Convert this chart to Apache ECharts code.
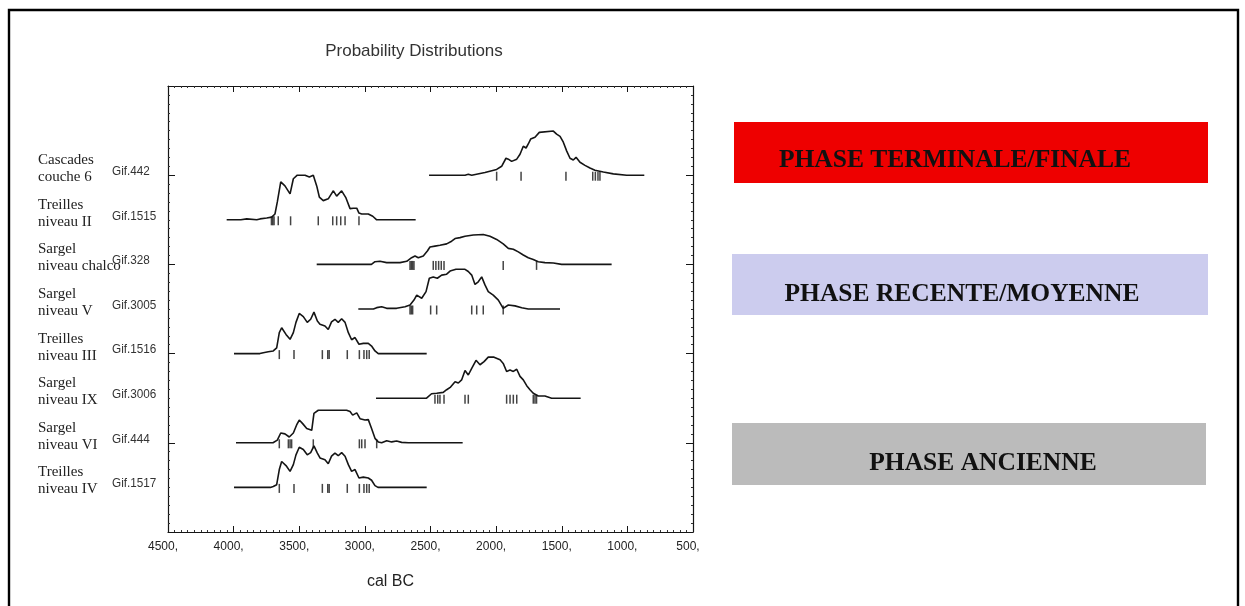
<!DOCTYPE html>
<html><head><meta charset="utf-8">
<script src="https://cdn.jsdelivr.net/npm/echarts@6/dist/echarts.min.js"></script>
<style>html,body{margin:0;padding:0;background:#fff}#c{width:1245px;height:606px}</style>
</head><body><div id="c"></div>
<script>
// ---- data ----
const siteNames = ['Cascades\ncouche 6','Treilles\nniveau II','Sargel\nniveau chalco','Sargel\nniveau V','Treilles\nniveau III','Sargel\nniveau IX','Sargel\nniveau VI','Treilles\nniveau IV'];
const labCodes = ['Gif.442','Gif.1515','Gif.328','Gif.3005','Gif.1516','Gif.3006','Gif.444','Gif.1517'];
const xTickValues = [4500,4000,3500,3000,2500,2000,1500,1000,500];
const phaseLabels = ['PHASE TERMINALE/FINALE','PHASE RECENTE/MOYENNE','PHASE ANCIENNE'];
const phaseColors = ['#ee0000','#ccccee','#bbbbbb'];

// [year cal BC, relative probability (100 = one row height)]
const curve442 = [[2511,0],[2237,0],[2212,2],[2186,0],[2085,6],[1996,13],[1958,20],[1925,38],[1907,36],[1882,31],[1843,36],[1818,47],[1793,65],[1772,61],[1755,70],[1737,81],[1704,85],[1671,96],[1564,99],[1539,92],[1513,87],[1488,74],[1462,54],[1437,38],[1412,34],[1391,40],[1361,29],[1323,22],[1285,16],[1247,11],[1183,7],[1107,3],[1005,0],[871,0]];
const curve1515 = [[4053,0],[3945,0],[3938,2],[3900,2],[3890,0],[3824,0],[3799,2],[3748,4],[3710,6],[3685,13],[3667,40],[3641,85],[3609,76],[3570,58],[3545,92],[3515,100],[3456,100],[3423,96],[3393,100],[3367,76],[3347,51],[3317,43],[3279,47],[3260,56],[3240,65],[3215,53],[3177,65],[3144,49],[3113,25],[3088,26],[3062,26],[3045,15],[3024,13],[2974,13],[2940,8],[2910,0],[2613,0]];
const curve328 = [[3367,0],[2950,0],[2923,6],[2885,7],[2834,4],[2732,4],[2681,7],[2644,15],[2618,19],[2593,15],[2555,19],[2524,30],[2504,39],[2466,41],[2428,43],[2377,46],[2339,52],[2313,58],[2275,60],[2237,63],[2174,66],[2098,67],[2047,63],[1996,56],[1946,46],[1907,36],[1869,34],[1831,28],[1793,21],[1755,15],[1717,11],[1679,6],[1628,4],[1564,3],[1501,0],[1120,0]];
const curve3005 = [[3050,0],[2935,0],[2910,3],[2872,5],[2834,1.5],[2758,1.5],[2694,5],[2656,9],[2626,20],[2605,31],[2567,24],[2534,39],[2509,69],[2479,72],[2448,69],[2415,76],[2377,78],[2351,85],[2306,89],[2237,89],[2212,84],[2186,76],[2161,55],[2136,61],[2110,72],[2085,54],[2060,39],[2022,31],[1983,20],[1946,1.5],[1907,9],[1856,7],[1805,3],[1755,0],[1513,0]];
const curve1516 = [[3997,0],[3800,0],[3774,2],[3736,4],[3698,6],[3672,13],[3652,47],[3634,58],[3601,43],[3570,32],[3545,47],[3525,70],[3500,90],[3469,83],[3439,70],[3413,77],[3388,93],[3362,73],[3342,66],[3304,62],[3279,54],[3254,71],[3228,77],[3203,70],[3177,78],[3151,70],[3126,47],[3101,31],[3075,36],[3045,21],[3012,23],[2974,23],[2949,17],[2923,6],[2898,0],[2529,0]];
const curve3006 = [[2915,0],[2530,0],[2517,4],[2492,10],[2453,11],[2403,13],[2377,19],[2347,25],[2313,37],[2288,34],[2263,41],[2237,62],[2212,52],[2186,67],[2153,85],[2123,75],[2092,82],[2060,92],[2016,92],[1970,86],[1946,78],[1920,60],[1894,63],[1869,60],[1843,65],[1818,49],[1793,41],[1767,28],[1742,19],[1717,11],[1679,5],[1628,5],[1577,0],[1356,0]];
const curve444 = [[3982,0],[3700,0],[3685,2],[3667,6],[3641,22],[3609,20],[3576,13],[3545,22],[3520,40],[3500,51],[3474,43],[3443,32],[3405,28],[3388,66],[3355,73],[3139,73],[3113,70],[3093,62],[3062,67],[3037,54],[2999,51],[2974,52],[2949,32],[2923,10],[2898,2],[2872,0],[2834,4.5],[2796,2],[2758,4],[2720,1],[2669,0],[2255,0]];
const curve1517 = [[3997,0],[3720,0],[3698,2],[3672,6],[3652,40],[3634,58],[3601,49],[3570,36],[3545,51],[3525,73],[3500,90],[3469,85],[3439,73],[3413,78],[3388,93],[3362,77],[3342,66],[3304,62],[3279,53],[3254,70],[3228,77],[3203,71],[3177,78],[3151,70],[3126,51],[3101,36],[3075,40],[3045,21],[3012,23],[2974,21],[2949,16],[2923,4],[2900,0],[2529,0]];

// range markers (years cal BC) on each baseline
const ticks442 = [1996,1810,1468,1264,1244,1224,1209];
const ticks1515 = [3712,3702,3692,3660,3566,3355,3245,3215,3184,3151,3045];
const ticks328 = [2656,2646,2636,2626,2479,2459,2438,2418,2397,1946,1692];
const ticks3005 = [2656,2646,2636,2499,2453,2186,2148,2098,1946];
const ticks1516 = [3652,3540,3324,3283,3272,3134,3042,3007,2986,2967];
const ticks3006 = [2466,2445,2428,2397,2237,2212,1920,1894,1869,1843,1717,1704,1692];
const ticks444 = [3652,3583,3570,3558,3393,3042,3024,2999,2910];
const ticks1517 = [3652,3540,3324,3283,3272,3134,3042,3007,2986,2967];

const curves = [curve442,curve1515,curve328,curve3005,curve1516,curve3006,curve444,curve1517];
const rangeTicks = [ticks442,ticks1515,ticks328,ticks3005,ticks1516,ticks3006,ticks444,ticks1517];

// ---- chart ----
const SANS = "'Liberation Sans', Arial, sans-serif";
const SERIF = "'Liberation Serif', 'Times New Roman', serif";
const INK = '#151515';

const chart = echarts.init(document.getElementById('c'), null, {renderer:'canvas'});

function xAxisDef(pos, showLabel){
  return {
    type:'value', min:500, max:4500, interval:500, inverse:true, position:pos,
    axisLine:{show:true, onZero:false, lineStyle:{color:INK, width:1.2}},
    axisTick:{show:true, inside:true, length:6, lineStyle:{color:INK, width:1}},
    minorTick:{show:true, splitNumber:10, length:2, lineStyle:{color:'#333', width:1}},
    splitLine:{show:false}, minorSplitLine:{show:false},
    axisLabel: showLabel ? {show:true, formatter:v=>v+',', fontSize:12, color:'#222', fontFamily:SANS, margin:9, padding:[0,10,0,0]} : {show:false},
    name: showLabel ? 'cal BC' : '',
    nameLocation:'middle', nameGap:42,
    nameTextStyle:{fontSize:16, color:'#222', fontFamily:SANS, padding:[0,80,0,0]}
  };
}
function yAxisDef(pos){
  return {
    type:'value', min:-2, max:8, interval:2, inverse:true, position:pos,
    axisLine:{show:true, onZero:false, lineStyle:{color:INK, width:1.2}},
    axisTick:{show:true, inside:true, length:7, lineStyle:{color:INK, width:1}},
    minorTick:{show:true, splitNumber:10, length:2, lineStyle:{color:'#333', width:1}},
    splitLine:{show:false}, minorSplitLine:{show:false},
    axisLabel:{show:false}
  };
}

const series = [];
curves.forEach((c, row) => {
  series.push({
    type:'line', xAxisIndex:0, yAxisIndex:0,
    data: c.map(p => [p[0], row - p[1]/100]),
    showSymbol:false, symbol:'none', silent:true,
    lineStyle:{color:INK, width:1.6}, z:3
  });
  series.push({
    type:'scatter', xAxisIndex:0, yAxisIndex:0,
    data: rangeTicks[row].map(y => [y, row]),
    symbol:'rect', symbolSize:[1.5, 9], symbolOffset:[0, 1],
    itemStyle:{color:INK}, silent:true, z:4
  });
});

chart.setOption({
  animation:false,
  backgroundColor:'#ffffff',
  grid:{left:168, right:552, top:86, bottom:74, containLabel:false},
  xAxis:[xAxisDef('bottom', true), xAxisDef('top', false)],
  yAxis:[yAxisDef('left'), yAxisDef('right')],
  series: series
});

// ---- text & annotation graphics ----
const graphics = [];
graphics.push({type:'rect', shape:{x:9, y:10, width:1229, height:700}, style:{fill:'none', stroke:'#000', lineWidth:2.4}, silent:true});
graphics.push({type:'text', x:414, y:51, style:{text:'Probability Distributions', fontSize:17, fontFamily:SANS, fill:'#333', align:'center', verticalAlign:'middle'}});

labCodes.forEach((code, row) => {
  const yPix = chart.convertToPixel({yAxisIndex:0}, row);
  graphics.push({type:'text', x:38, y:yPix-6.5, style:{text:siteNames[row], fontSize:15, lineHeight:17, fontFamily:SERIF, fill:'#222', align:'left', verticalAlign:'middle'}});
  graphics.push({type:'text', x:112, y:yPix-4, scaleX:0.87, style:{text:code, fontSize:13.5, fontFamily:SANS, fill:'#333', align:'left', verticalAlign:'middle'}});
});

const phaseBoxes = [
  {x:734, y:122, w:474, h:61, tx:955, ty:160},
  {x:732, y:254, w:476, h:61, tx:962, ty:294},
  {x:732, y:423, w:474, h:62, tx:983, ty:463}
];
phaseBoxes.forEach((b, i) => {
  graphics.push({type:'rect', shape:{x:b.x, y:b.y, width:b.w, height:b.h}, style:{fill:phaseColors[i]}, silent:true});
  graphics.push({type:'text', x:b.tx, y:b.ty, style:{text:phaseLabels[i], fontSize:25.5, fontWeight:'bold', fontFamily:SERIF, fill:'#111', align:'center', verticalAlign:'middle'}});
});

chart.setOption({graphic: graphics});
</script>
</body></html>
